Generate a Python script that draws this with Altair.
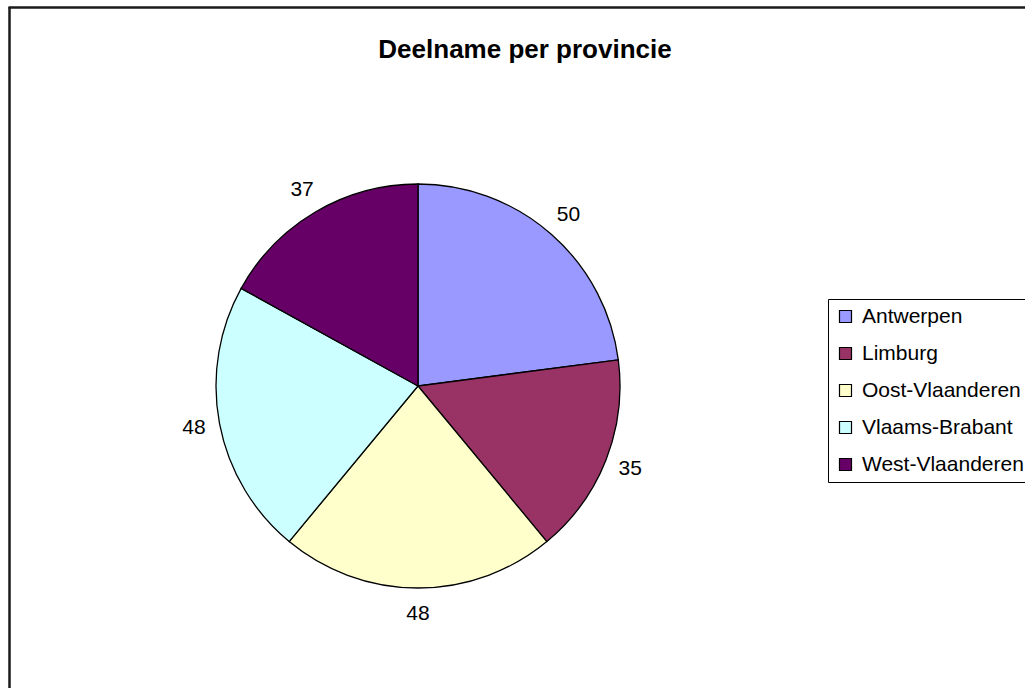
import altair as alt
import pandas as pd

provinces = ["Antwerpen", "Limburg", "Oost-Vlaanderen", "Vlaams-Brabant", "West-Vlaanderen"]
values = [50, 35, 48, 48, 37]
colors = ["#9999FF", "#993366", "#FFFFCC", "#CCFFFF", "#660066"]
title_text = "Deelname per provincie"

df = pd.DataFrame({"provincie": provinces, "deelname": values, "idx": list(range(len(provinces)))})

FONT = "Liberation Sans"
CX, CY, R = 418, 386, 202

base = alt.Chart(df).encode(
    theta=alt.Theta("deelname:Q", stack=True),
    order=alt.Order("idx:Q", sort="ascending"),
    x=alt.value(CX),
    y=alt.value(CY),
)

pie = base.mark_arc(outerRadius=R, stroke="#000000", strokeWidth=1.3).encode(
    color=alt.Color(
        "provincie:N",
        scale=alt.Scale(domain=provinces, range=colors),
        sort=provinces,
        legend=alt.Legend(
            title=None,
            orient="none",
            legendX=828,
            legendY=299,
            symbolType="square",
            symbolSize=144,
            symbolStrokeColor="#000000",
            symbolStrokeWidth=1.2,
            symbolOpacity=1,
            labelFont=FONT,
            labelFontSize=21,
            labelColor="#000000",
            labelOffset=6,
            labelLimit=400,
            rowPadding=15,
            padding=7,
            strokeColor="#000000",
            fillColor="#FFFFFF",
        ),
    )
)

labels = base.mark_text(radius=228, font=FONT, fontSize=21, color="#000000").encode(
    text=alt.Text("deelname:Q")
)

one = pd.DataFrame({"t": [title_text]})
title = alt.Chart(one).mark_text(font=FONT, fontSize=26, fontWeight="bold", color="#000000").encode(
    text="t:N", x=alt.value(525), y=alt.value(50)
)

border_left = alt.Chart(one).mark_rule(color="#1a1a1a", strokeWidth=2.5).encode(
    x=alt.value(9.5), y=alt.value(7), y2=alt.value(700)
)
border_top = alt.Chart(one).mark_rule(color="#1a1a1a", strokeWidth=2.5).encode(
    x=alt.value(8.5), x2=alt.value(1030), y=alt.value(7.5)
)

chart = alt.layer(border_left, border_top, pie, labels, title).properties(
    width=1025,
    height=688,
    autosize=alt.AutoSizeParams(type="none"),
    padding=0,
    background="#FFFFFF",
).configure_view(stroke=None)

chart.save("out.html", embed_options={"renderer": "svg", "actions": False})
